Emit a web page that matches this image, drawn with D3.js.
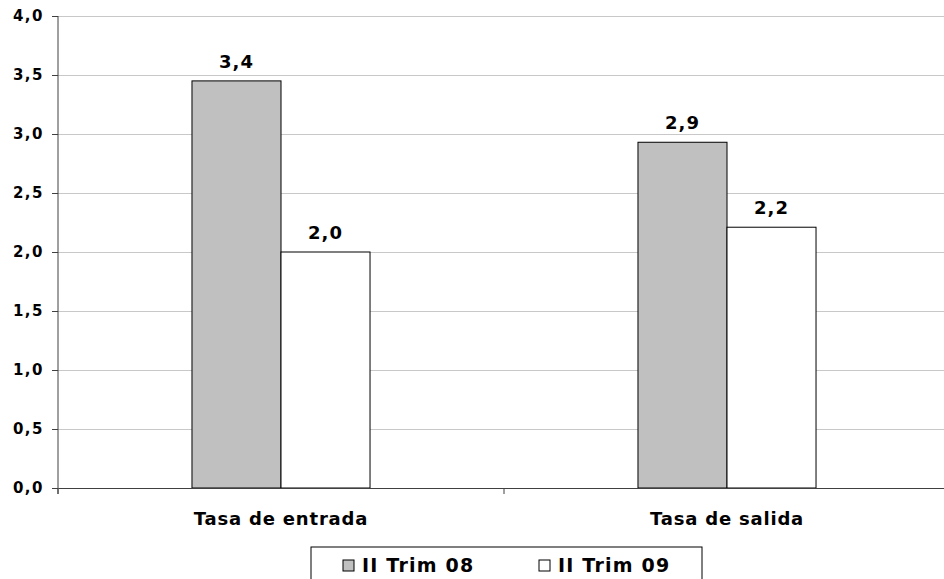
<!DOCTYPE html>
<html>
<head>
<meta charset="utf-8">
<style>
body { margin: 0; background: #fff; }
svg { font-family: "DejaVu Sans", Verdana, sans-serif; font-weight: bold; }
.grid line { stroke: #c8c8c8; }
.grid .domain { display: none; }
</style>
</head>
<body>
<svg width="944" height="579"></svg>
<script src="https://cdnjs.cloudflare.com/ajax/libs/d3/7.8.5/d3.min.js"></script>
<script>

var categories = ["Tasa de entrada", "Tasa de salida"];
var series = ["II Trim 08", "II Trim 09"];
var trim08 = [3.45, 2.93];
var trim09 = [2.0, 2.21];
var barLabels08 = ["3,4", "2,9"];
var barLabels09 = ["2,0", "2,2"];
var yTicks = [0, 0.5, 1, 1.5, 2, 2.5, 3, 3.5, 4];
var colors = ["#c0c0c0", "#ffffff"];

var svg = d3.select("svg"),
    margin = {top: 16, left: 58},
    plotW = 892,
    plotH = 472;

var g = svg.append("g").attr("transform", "translate(" + margin.left + "," + margin.top + ")");

var x0 = d3.scaleBand().domain(categories).range([0, plotW]);
var x1 = d3.scaleBand().domain(series).range([0, x0.bandwidth()]).paddingOuter(1.505);
var y = d3.scaleLinear().domain([0, 4]).range([plotH, 0]);
var fmt = function(d) { return d3.format(".1f")(d).replace(".", ","); };

// gridlines
g.append("g")
    .attr("class", "grid")
    .call(d3.axisRight(y).tickValues(yTicks.slice(1)).tickSize(plotW).tickFormat(""));

var data = categories.map(function(c, i) {
  return {cat: c, vals: [
    {s: series[0], v: trim08[i], lab: barLabels08[i]},
    {s: series[1], v: trim09[i], lab: barLabels09[i]}
  ]};
});

var groups = g.selectAll(".cat")
  .data(data)
  .enter().append("g")
    .attr("transform", function(d) { return "translate(" + x0(d.cat) + ",0)"; });

groups.selectAll("rect")
  .data(function(d) { return d.vals; })
  .enter().append("rect")
    .attr("x", function(d) { return x1(d.s); })
    .attr("y", function(d) { return y(d.v); })
    .attr("width", x1.bandwidth())
    .attr("height", function(d) { return plotH - y(d.v); })
    .attr("fill", function(d, i) { return colors[i]; })
    .attr("stroke", "#000")
    .attr("stroke-width", 1);

groups.selectAll("text")
  .data(function(d) { return d.vals; })
  .enter().append("text")
    .attr("x", function(d) { return x1(d.s) + x1.bandwidth() / 2; })
    .attr("y", function(d) { return y(d.v) - 13; })
    .attr("text-anchor", "middle")
    .attr("font-size", 18)
    .attr("letter-spacing", 1)
    .text(function(d) { return d.lab; });

// y axis
var yAxis = g.append("g")
    .call(d3.axisLeft(y).tickValues(yTicks).tickSize(6).tickFormat(fmt));
yAxis.attr("font-size", null).attr("font-family", null);
yAxis.select(".domain").attr("stroke", "#404040").attr("d", "M0,0V" + (plotH + 6));
yAxis.selectAll(".tick line").attr("stroke", "#404040");
yAxis.selectAll(".tick text")
    .attr("x", -14)
    .style("font-size", "15px")
    .attr("letter-spacing", 1.5)
    .attr("fill", "#000");

// x axis
var xAxis = g.append("g")
    .attr("transform", "translate(0," + plotH + ")")
    .call(d3.axisBottom(x0).tickSize(0).tickFormat(""));
xAxis.select(".domain").attr("stroke", "#404040");
xAxis.selectAll(".tick").remove();
xAxis.selectAll(".sep")
  .data([0, x0.bandwidth(), plotW])
  .enter().append("line")
    .attr("x1", function(d) { return d; })
    .attr("x2", function(d) { return d; })
    .attr("y1", 0)
    .attr("y2", 6)
    .attr("stroke", "#404040");

g.selectAll(".catlab")
  .data(categories)
  .enter().append("text")
    .attr("x", function(d) { return x0(d) + x0.bandwidth() / 2; })
    .attr("y", plotH + 37)
    .attr("text-anchor", "middle")
    .attr("font-size", 18)
    .attr("letter-spacing", 0.8)
    .text(function(d) { return d; });

// legend
var legend = svg.append("g").attr("transform", "translate(311,547)");
legend.append("rect")
    .attr("width", 391)
    .attr("height", 40)
    .attr("fill", "#fff")
    .attr("stroke", "#000");

var item = legend.selectAll(".item")
  .data(series)
  .enter().append("g")
    .attr("transform", function(d, i) { return "translate(" + (32 + i * 196) + ",0)"; });

item.append("rect")
    .attr("y", 13)
    .attr("width", 11)
    .attr("height", 11)
    .attr("fill", function(d, i) { return colors[i]; })
    .attr("stroke", "#000");

item.append("text")
    .attr("x", 19)
    .attr("y", 25)
    .attr("font-size", 19)
    .attr("letter-spacing", 1.2)
    .text(function(d) { return d; });

</script>
</body>
</html>
